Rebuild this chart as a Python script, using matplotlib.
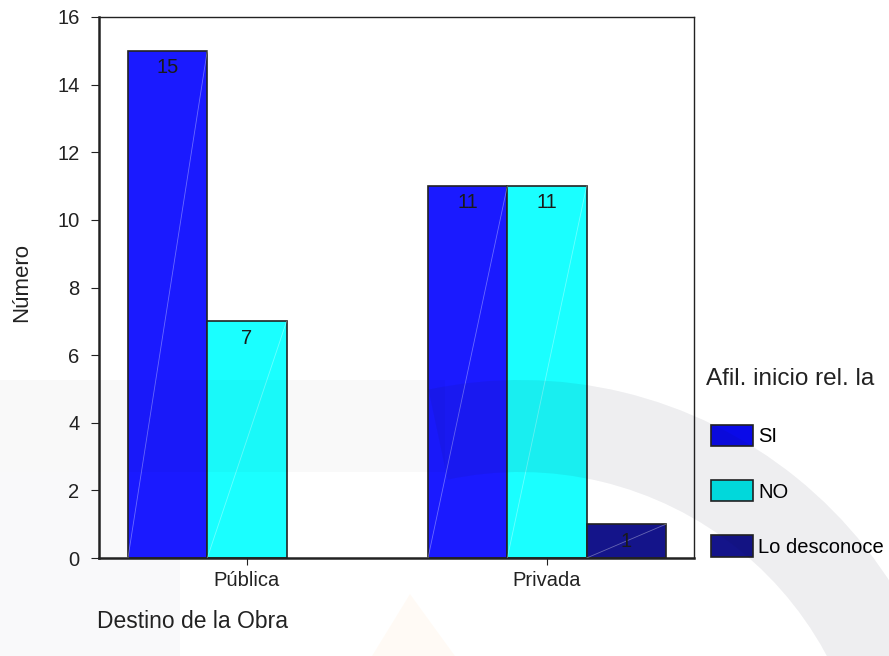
import matplotlib.pyplot as plt
import matplotlib.patches as mpatches
from matplotlib.transforms import IdentityTransform
import numpy as np

plt.rcParams['font.family'] = ['Liberation Sans', 'DejaVu Sans']

# Data
groups = ['Pública', 'Privada']
series = ['SI', 'NO', 'Lo desconoce']
counts = {
    'SI': [15, 11],
    'NO': [7, 11],
    'Lo desconoce': [0, 1],
}
colors = {'SI': '#1a1aff', 'NO': '#1affff', 'Lo desconoce': '#14148a'}
legend_colors = {'SI': '#0a0ae8', 'NO': '#00e8e8', 'Lo desconoce': '#14148a'}

W, H = 889, 656
fig = plt.figure(figsize=(W / 100, H / 100), dpi=100)
ax = fig.add_axes([99 / W, 1 - 558 / H, (694 - 99) / W, (558 - 17) / H])
ax.set_facecolor('none')

x = np.arange(len(groups))
width = 0.2643

for i, name in enumerate(series):
    offs = (i - 1) * width
    for xi, v in zip(x, counts[name]):
        if v == 0:
            continue
        bar = ax.bar(xi + offs, v, width, color=colors[name], edgecolor='#222222',
                     linewidth=1.2, zorder=2)[0]
        # faint diagonal, like the SPSS fill pattern
        bx, bw, bh = bar.get_x(), bar.get_width(), bar.get_height()
        ax.plot([bx, bx + bw], [0, bh], color='white', alpha=0.35, lw=0.6, zorder=3)
        ax.text(xi + offs, v - 0.5, str(v), ha='center', va='center', fontsize=14.5,
                color='#1a1a1a', zorder=4)

ax.set_xlim(-0.493, 1.49)
ax.set_ylim(0, 16)
ax.set_yticks(range(0, 17, 2))
ax.set_xticks(x)
ax.set_xticklabels(groups)
ax.tick_params(axis='both', labelsize=14.5, direction='out', colors='#222222')
ax.tick_params(axis='y', length=6, pad=8)
ax.tick_params(axis='x', length=5, pad=4)

for s in ['left', 'bottom']:
    ax.spines[s].set_linewidth(1.8)
for s in ['top', 'right']:
    ax.spines[s].set_linewidth(1.0)
for s in ax.spines.values():
    s.set_color('#222222')

fig.text(22 / W, 1 - 282 / H, 'Número', rotation=90, ha='center', va='center',
         fontsize=16, color='#222222')
fig.text(97 / W, 1 - 622 / H, 'Destino de la Obra', ha='left', va='center',
         fontsize=16.5, color='#222222')

# legend
fig.text(706 / W, 1 - 385 / H, 'Afil. inicio rel. la', ha='left', va='baseline',
         fontsize=17.5, color='#222222')
handles = [mpatches.Patch(facecolor=legend_colors[n], edgecolor='#222222', linewidth=1.2)
           for n in series]
fig.legend(handles, series, loc='upper left', bbox_to_anchor=(711 / W, 1 - 425 / H),
           frameon=False, fontsize=14.5, handlelength=2.09, handleheight=1.24,
           labelspacing=1.68, handletextpad=0.25, borderpad=0, borderaxespad=0)

# faint watermark of the page background
tr = IdentityTransform()
fig.add_artist(mpatches.Wedge((520, H - 820), 440, 0, 102, width=92, transform=tr,
                              facecolor='#101030', alpha=0.07, edgecolor='none', zorder=10))
fig.add_artist(mpatches.Rectangle((0, H - 472), 445, 92, transform=tr,
                                  facecolor='black', alpha=0.022, edgecolor='none', zorder=10))
fig.add_artist(mpatches.Rectangle((0, 0), 180, H - 472, transform=tr,
                                  facecolor='#556', alpha=0.03, edgecolor='none', zorder=0))
fig.add_artist(mpatches.Polygon([(372, 0), (410, 62), (455, 0)], transform=tr,
                                facecolor='#ffb040', alpha=0.05, edgecolor='none', zorder=0))

fig.savefig('out.png', dpi=100)
